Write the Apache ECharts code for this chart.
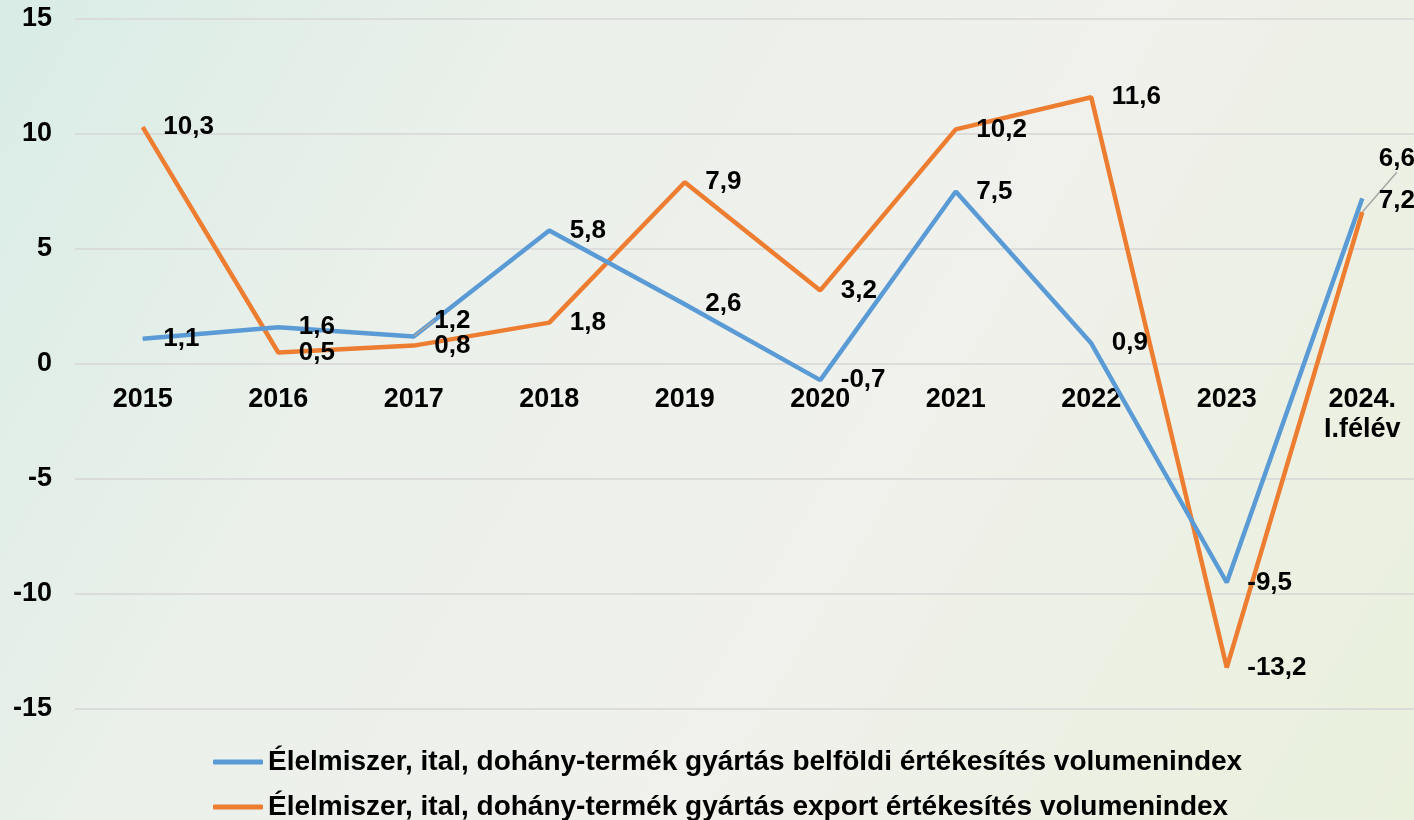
<!DOCTYPE html>
<html>
<head>
<meta charset="utf-8">
<script src="https://cdn.jsdelivr.net/npm/echarts@6/dist/echarts.min.js"></script>
<style>
  html, body { margin: 0; padding: 0; }
  #chart { width: 1414px; height: 820px; }
</style>
</head>
<body>
<div id="chart"></div>
<script>
  // kategóriák és adatok
  var years = ['2015', '2016', '2017', '2018', '2019', '2020', '2021', '2022', '2023', '2024.\nI.félév']
  var belfoldi = [1.1, 1.6, 1.2, 5.8, 2.6, -0.7, 7.5, 0.9, -9.5, 7.2]
  var export_ = [10.3, 0.5, 0.8, 1.8, 7.9, 3.2, 10.2, 11.6, -13.2, 6.6]
  var nevek = [
    'Élelmiszer, ital, dohány-termék gyártás belföldi értékesítés volumenindex',
    'Élelmiszer, ital, dohány-termék gyártás export értékesítés volumenindex'
  ]

  var font = '"Liberation Sans", Arial, sans-serif'
  var chart = echarts.init(document.getElementById('chart'))

  function labelText(p) {
    return String(p.value).replace('.', ',')
  }

  // vezetővonal csak ott, ahol a címke el van tolva
  function withLeader(arr, idx) {
    return arr.map(function (v, i) {
      if (i === idx) return { value: v, labelLine: { show: true } }
      return v
    })
  }

  var labelStyle = {
    show: true,
    position: 'right',
    distance: 20,
    fontSize: 26,
    fontWeight: 'bold',
    color: '#000',
    formatter: labelText
  }

  // a rácsmagasság (690px) 30 egység, a 0-s szint 345px-re van az aljától
  var gridHeight = 690
  var zeroOffset = -gridHeight * 15 / 30

  chart.setOption({
    backgroundColor: {
      type: 'linear', x: 0, y: 0, x2: 1, y2: 1,
      colorStops: [
        { offset: 0, color: '#d9ece6' },
        { offset: 0.3, color: '#ebf0ea' },
        { offset: 0.6, color: '#f0f1ec' },
        { offset: 1, color: '#e9f0dc' }
      ]
    },
    textStyle: { fontFamily: font },
    grid: {
      left: 75,
      top: 19,
      width: 1355,
      height: gridHeight,
      outerBoundsMode: 'none'
    },
    legend: {
      orient: 'vertical',
      left: 208,
      top: 741,
      height: 120,
      itemWidth: 50,
      itemHeight: 5,
      itemGap: 13,
      itemTextGap: 0,
      icon: 'roundRect',
      textStyle: { fontSize: 28, lineHeight: 32, fontWeight: 'bold', color: '#000', fontFamily: font },
      data: nevek
    },
    xAxis: {
      type: 'category',
      data: years,
      position: 'bottom',
      offset: zeroOffset,
      axisLine: { show: false, onZero: false },
      axisTick: { show: false },
      axisLabel: {
        margin: 21,
        fontSize: 27,
        fontWeight: 'bold',
        color: '#000',
        lineHeight: 30,
        verticalAlign: 'top'
      }
    },
    yAxis: {
      type: 'value',
      min: -15,
      max: 15,
      interval: 5,
      axisLine: { show: false },
      axisTick: { show: false },
      axisLabel: {
        margin: 23,
        fontSize: 27,
        fontWeight: 'bold',
        color: '#000'
      },
      splitLine: { lineStyle: { color: '#d6d6d6', width: 1.5 } }
    },
    series: [
      {
        name: nevek[0],
        type: 'line',
        data: withLeader(belfoldi, 2),
        color: '#5b9bd5',
        symbol: 'circle',
        symbolSize: 1,
        lineStyle: { width: 4.5 },
        label: labelStyle,
        labelLine: { show: false, lineStyle: { color: '#a6a6a6', width: 1.5 } },
        labelLayout: function (p) {
          if (p.dataIndex === 2) return { dy: -16 }
          if (p.dataIndex === 9) return { dy: 2, dx: -4 }
          return {}
        },
        z: 3
      },
      {
        name: nevek[1],
        type: 'line',
        data: withLeader(export_, 9),
        color: '#ed7d31',
        symbol: 'circle',
        symbolSize: 1,
        lineStyle: { width: 4.5 },
        label: labelStyle,
        labelLine: { show: false, lineStyle: { color: '#a6a6a6', width: 1.5 } },
        labelLayout: function (p) {
          if (p.dataIndex === 9) return { dy: -53, dx: -4 }
          return {}
        },
        z: 2
      }
    ]
  })
</script>
</body>
</html>
